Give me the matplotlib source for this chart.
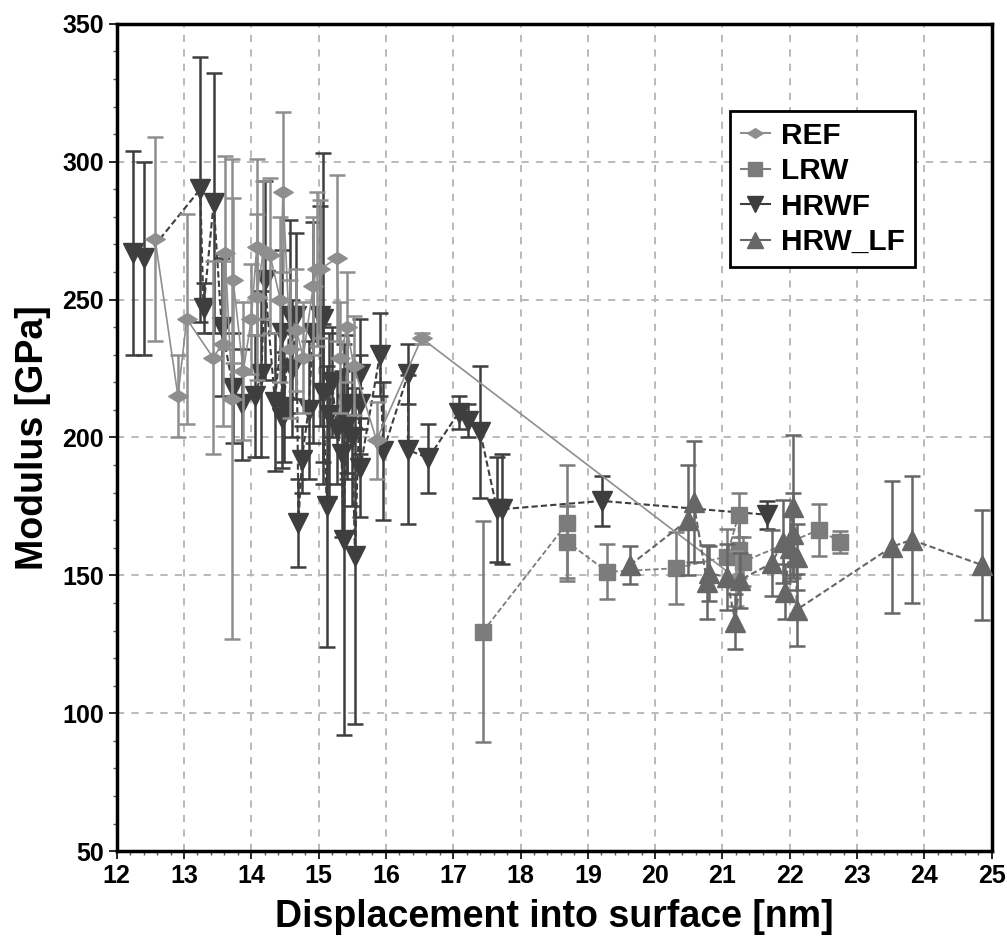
import numpy as np
import matplotlib.pyplot as plt
from matplotlib.lines import Line2D
from matplotlib.path import Path
from matplotlib.ticker import MultipleLocator

plt.rcParams['font.family'] = ['Liberation Sans', 'DejaVu Sans']
plt.rcParams['font.weight'] = 'bold'

# REF
ref_x = [12.57, 12.91, 13.04, 13.43, 13.58, 13.61, 13.72, 13.73, 13.88, 14.00,
         14.08, 14.08, 14.18, 14.28, 14.43, 14.47, 14.58, 14.67, 14.77, 14.92,
         14.97, 15.02, 15.27, 15.32, 15.42, 15.52, 15.86, 16.53, 21.20]
ref_y = [272, 215, 243, 229, 234, 267, 214, 257, 224, 243,
         269, 251, 268, 266, 250, 289, 232, 239, 229, 255,
         261, 261, 265, 229, 240, 226, 199, 236, 149]
ref_err = [37, 15, 38, 35, 30, 35, 87, 30, 25, 20,
           32, 30, 25, 28, 30, 29, 25, 22, 20, 25,
           28, 25, 30, 20, 20, 18, 14, 2, 10]

# LRW
lrw_x = [17.44, 18.69, 18.69, 19.29, 20.31, 21.06, 21.24, 21.24, 21.31, 22.43, 22.75]
lrw_y = [129.6, 168.9, 162.2, 151.3, 152.6, 156.8, 171.9, 159.2, 155.0, 166.5, 162.2]
lrw_err = [40, 21, 13, 10, 13, 10, 8, 10, 9, 9.5, 4]

# HRWF
hrwf_x = [12.24, 12.41, 13.24, 13.29, 13.44, 13.56, 13.73, 13.86, 14.05, 14.15,
          14.20, 14.35, 14.45, 14.45, 14.48, 14.58, 14.60, 14.67, 14.70, 14.75,
          14.85, 14.92, 15.02, 15.07, 15.07, 15.12, 15.15, 15.20, 15.27, 15.34,
          15.37, 15.42, 15.42, 15.50, 15.54, 15.62, 15.62, 15.62, 15.91, 15.96,
          16.33, 16.33, 16.63, 17.08, 17.22, 17.40, 17.65, 17.72, 19.21, 21.66]
hrwf_y = [267, 265, 290, 247, 285, 240, 218, 212, 215, 223,
          257, 213, 238, 207, 211, 244, 225, 244, 169, 192,
          210, 238, 244, 243, 216, 175, 208, 220, 203, 194,
          163, 212, 205, 200, 157, 223, 212, 189, 230, 195,
          223, 195.5, 192.5, 209, 206, 202, 174, 174, 177, 172]
hrwf_err = [37, 35, 48, 9, 47, 25, 20, 20, 22, 30,
            36, 25, 30, 18, 20, 35, 25, 30, 16, 12,
            25, 40, 40, 60, 25, 51, 30, 20, 20, 30,
            71, 25, 20, 25, 61, 20, 18, 18, 15, 25,
            11, 27, 12.5, 6, 6, 24, 19, 20, 9, 5]

# HRW_LF
hlf_x = [19.63, 20.49, 20.57, 20.77, 20.80, 21.06, 21.19, 21.26, 21.73, 21.90,
         21.93, 22.00, 22.05, 22.05, 22.10, 22.10, 23.52, 23.81, 24.85]
hlf_y = [153.8, 170.1, 176.7, 147.7, 150.7, 149.5, 133.2, 148.3, 154.4, 162.2,
         144.1, 160.0, 174.9, 165.0, 156.8, 137.5, 160.4, 162.9, 153.8]
hlf_err = [7, 20, 22, 13.5, 10, 12, 10, 10, 12, 15,
           10, 12, 26, 15, 12, 13, 24, 23, 20]

diamond = Path([(-1, 0), (0, 0.62), (1, 0), (0, -0.62), (-1, 0)],
               [Path.MOVETO, Path.LINETO, Path.LINETO, Path.LINETO, Path.CLOSEPOLY])

series = [
    ("REF", ref_x, ref_y, ref_err, diamond, 14, "#8e8e8e", "-", 1.2, 4),
    ("LRW", lrw_x, lrw_y, lrw_err, "s", 12, "#7c7c7c", (0, (3, 1.5)), 1.3, 3),
    ("HRWF", hrwf_x, hrwf_y, hrwf_err, "v", 14.5, "#3e3e3e", (0, (3, 1.5)), 1.5, 2),
    ("HRW_LF", hlf_x, hlf_y, hlf_err, "^", 14, "#666666", (0, (3, 1.5)), 1.5, 5),
]

fig = plt.figure(figsize=(10.07, 9.44), dpi=100)
ax = fig.add_axes([0.1159, 0.0983, 0.8689, 0.8765])

handles = []
for name, x, y, e, mk, ms, col, ls, lw, z in series:
    ax.errorbar(x, y, yerr=e, fmt="none", ecolor=col, elinewidth=1.8,
                capsize=5.5, capthick=1.8, zorder=z)
    ax.plot(x, y, linestyle=ls, color=col, linewidth=lw, marker=mk,
            markersize=ms, markerfacecolor=col, markeredgecolor=col, zorder=z + 0.5)
    handles.append(Line2D([], [], linestyle="-", color=col, linewidth=1.5,
                          marker=mk, markersize=ms * 0.8, markerfacecolor=col,
                          markeredgecolor=col, label=name))

ax.set_xlim(12, 25)
ax.set_ylim(50, 350)
ax.xaxis.set_major_locator(MultipleLocator(1))
ax.xaxis.set_minor_locator(MultipleLocator(0.2))
ax.yaxis.set_major_locator(MultipleLocator(50))
ax.yaxis.set_minor_locator(MultipleLocator(10))
ax.grid(True, which="major", color="#b4b4b4", linestyle=(0, (4, 4)), linewidth=1.3)
ax.set_axisbelow(True)

for s in ax.spines.values():
    s.set_linewidth(2.5)
    s.set_color("black")

ax.tick_params(which="major", direction="out", length=6, width=1.2, labelsize=18, pad=3)
ax.tick_params(which="minor", direction="out", length=3, width=1, color="#555555")
for lab in ax.get_xticklabels() + ax.get_yticklabels():
    lab.set_fontweight("bold")

ax.set_xlabel("Displacement into surface [nm]", fontsize=27, fontweight="bold", labelpad=8)
ax.set_ylabel("Modulus [GPa]", fontsize=27, fontweight="bold", labelpad=8)

leg = ax.legend(handles=handles, loc="upper left", bbox_to_anchor=(0.701, 0.894),
                fancybox=False, framealpha=1, edgecolor="black", fontsize=21.5,
                handlelength=1.0, handletextpad=0.35, labelspacing=0.25,
                borderpad=0.35, borderaxespad=0)
leg.get_frame().set_linewidth(2)
for t in leg.get_texts():
    t.set_fontweight("bold")

fig.savefig("out.png", dpi=100)
